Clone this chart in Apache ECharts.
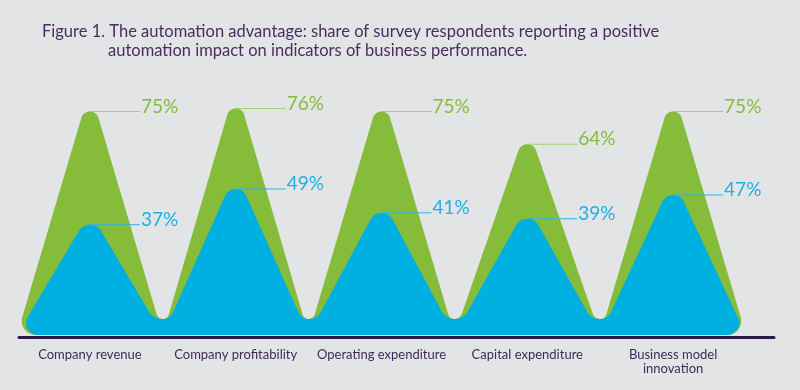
<!DOCTYPE html>
<html>
<head>
<meta charset="utf-8">
<script src="https://cdn.jsdelivr.net/npm/echarts@6/dist/echarts.min.js"></script>
<style>
html,body{margin:0;padding:0;background:#e3e4e6;}
#chart{width:800px;height:390px;}
</style>
</head>
<body>
<div id="chart"></div>
<script>
// ---- data ----
const categories = ['Company revenue', 'Company profitability', 'Operating expenditure', 'Capital expenditure', 'Business model\ninnovation'];
const greenValues = [75, 76, 75, 64, 75];
const blueValues = [37, 49, 41, 39, 47];
const titleLine1 = 'Figure 1. The automation advantage: share of survey respondents reporting a positive';
const titleLine2 = 'automation impact on indicators of business performance.';

// ---- style ----
const BG = '#e3e4e6';
const TITLE_COLOR = '#4a2d5f';
const LABEL_COLOR = '#3f2b58';
const AXIS_COLOR = '#2d1a48';
const FONT = 'Lato, "Open Sans", sans-serif';

function add(a, b) { return [a[0] + b[0], a[1] + b[1]]; }
function sub(a, b) { return [a[0] - b[0], a[1] - b[1]]; }
function mul(a, s) { return [a[0] * s, a[1] * s]; }
function norm(a) { const l = Math.hypot(a[0], a[1]); return [a[0] / l, a[1] / l]; }

function fillet(A, V, B, R) {
  const u1 = norm(sub(A, V)), u2 = norm(sub(B, V));
  const c = Math.max(-1, Math.min(1, u1[0] * u2[0] + u1[1] * u2[1]));
  const theta = Math.acos(c);
  const t = R / Math.tan(theta / 2);
  const T1 = add(V, mul(u1, t)), T2 = add(V, mul(u2, t));
  const phi = Math.PI - theta;
  const h = 4 / 3 * Math.tan(phi / 4) * R;
  return { T1: T1, C1: add(T1, mul(u1, -h)), C2: add(T2, mul(u2, -h)), T2: T2 };
}

function pushCubic(pts, p0, c1, c2, p3, n) {
  n = n || 14;
  for (let k = 1; k <= n; k++) {
    const t = k / n, mt = 1 - t;
    const a = mt * mt * mt, b = 3 * mt * mt * t, cc = 3 * mt * t * t, d = t * t * t;
    pts.push([a * p0[0] + b * c1[0] + cc * c2[0] + d * p3[0],
              a * p0[1] + b * c1[1] + cc * c2[1] + d * p3[1]]);
  }
}

function makeSeries(values, o) {
  const n = values.length;
  return {
    type: 'custom',
    xAxisIndex: 0,
    yAxisIndex: 0,
    z: o.z,
    silent: true,
    data: values.map(function (v, i) { return [i, v]; }),
    encode: { x: 0, y: 1 },
    renderItem: function (params, api) {
      const i = api.value(0), v = api.value(1);
      const top = api.coord([i, v]);
      const xc = top[0], yt = top[1];
      const yb = api.coord([i, 0])[1];
      const half = api.size([1, 0])[0] / 2;
      const L = xc - half, Rr = xc + half;
      const h = yb - yt;
      const g = o.gapRatio * h;
      const P = [xc, yt - g];
      const tanA = half / (yb - P[1]);
      const alpha = Math.atan(tanA);
      const sinA = Math.sin(alpha), cosA = Math.cos(alpha);
      const Rp = g * sinA / (1 - sinA);
      const dv = o.valleyDepth;
      const yU = yb - dv;
      const Rv = dv * sinA / (1 - sinA);
      const tdist = Rv / tanA;
      const hv = 4 / 3 * Math.tan((Math.PI / 2 - alpha) / 4) * Rv;
      const pts = [];
      // left side
      if (i === 0) {
        const f = fillet([xc, yb], [L, yb], P, o.endRadius);
        pts.push(f.T1);
        pushCubic(pts, f.T1, f.C1, f.C2, f.T2);
      } else {
        const d = [sinA, -cosA];
        const U = [L, yU];
        const T = [L + d[0] * tdist, yb + d[1] * tdist];
        pts.push([L - 0.7, yb], [L - 0.7, yU + 1.5], U);
        pushCubic(pts, U, [L + hv, yU], [T[0] - d[0] * hv, T[1] - d[1] * hv], T);
      }
      // peak
      const pk = fillet([L, yb], P, [Rr, yb], Rp);
      pts.push(pk.T1);
      pushCubic(pts, pk.T1, pk.C1, pk.C2, pk.T2, 18);
      // right side
      if (i === n - 1) {
        const f = fillet(P, [Rr, yb], [xc, yb], o.endRadius);
        pts.push(f.T1);
        pushCubic(pts, f.T1, f.C1, f.C2, f.T2);
      } else {
        const dr = [sinA, cosA];
        const Tr = [Rr - dr[0] * tdist, yb - dr[1] * tdist];
        pts.push(Tr);
        pushCubic(pts, Tr, [Tr[0] + dr[0] * hv, Tr[1] + dr[1] * hv], [Rr - hv, yU], [Rr, yU]);
        pts.push([Rr + 0.7, yU + 1.5], [Rr + 0.7, yb]);
      }
      return {
        type: 'group',
        children: [
          { type: 'polygon', shape: { points: pts }, style: { fill: o.color } },
          { type: 'line', shape: { x1: xc, y1: yt, x2: xc + 50, y2: yt },
            style: { stroke: o.lineColor, lineWidth: 1 } },
          { type: 'text', style: { text: v + '%', x: xc + 51, y: yt - 5,
              fill: o.textColor, fontSize: 19, fontFamily: FONT,
              align: 'left', verticalAlign: 'middle' } }
        ]
      };
    }
  };
}

const chart = echarts.init(document.getElementById('chart'), null, { renderer: 'canvas' });
chart.setOption({
  backgroundColor: BG,
  animation: false,
  title: [
    { text: titleLine1, left: 42, top: 23, padding: 0,
      textStyle: { fontFamily: FONT, fontSize: 16.5, fontWeight: 'normal', color: TITLE_COLOR } },
    { text: titleLine2, left: 108, top: 42, padding: 0,
      textStyle: { fontFamily: FONT, fontSize: 16.5, fontWeight: 'normal', color: TITLE_COLOR } }
  ],
  grid: [
    { left: 17, right: 54, top: 37, bottom: 55 },
    { left: 19, right: 26, top: 37, bottom: 53 }
  ],
  xAxis: [
    { type: 'category', gridIndex: 0, data: categories,
      axisLine: { show: false }, axisTick: { show: false },
      axisLabel: { interval: 0, margin: 13, fontFamily: FONT, fontSize: 13, lineHeight: 14, color: LABEL_COLOR } },
    { type: 'value', gridIndex: 1, min: 0, max: 1, z: 10,
      axisLine: { show: true, lineStyle: { color: AXIS_COLOR, width: 3 } },
      axisTick: { show: false }, axisLabel: { show: false }, splitLine: { show: false } }
  ],
  yAxis: [
    { type: 'value', gridIndex: 0, min: 0, max: 100, show: false },
    { type: 'value', gridIndex: 1, min: 0, max: 1, show: false }
  ],
  series: [
    makeSeries(greenValues, { color: '#85bd3a', lineColor: '#a3d06c', textColor: '#84bd3c',
      gapRatio: 0.1, valleyDepth: 16, endRadius: 14, z: 2 }),
    makeSeries(blueValues, { color: '#00b0e0', lineColor: '#2cb4e3', textColor: '#1eb1e3',
      gapRatio: 0.115, valleyDepth: 16, endRadius: 12, z: 3 })
  ]
});
</script>
</body>
</html>
